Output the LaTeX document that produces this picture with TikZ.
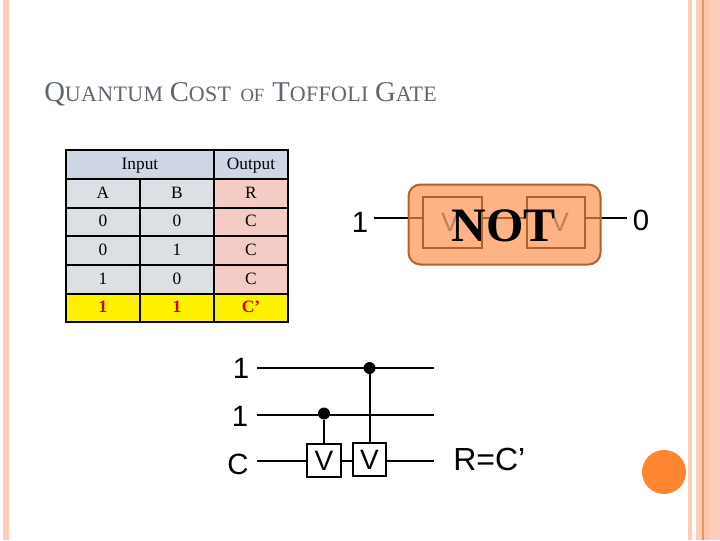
\documentclass[tikz,border=0pt]{standalone}
\usepackage{fontspec}
\setmainfont{Liberation Serif}
\newfontfamily\wirefont{Liberation Sans}
\definecolor{stripe}{HTML}{FDCDBA}
\definecolor{stripedark}{HTML}{FCC5AF}
\definecolor{stripeline}{HTML}{E8965F}
\definecolor{titlegrey}{HTML}{5E6670}
\definecolor{headblue}{HTML}{CFD7E6}
\definecolor{cellgrey}{HTML}{DCDFE4}
\definecolor{cellpink}{HTML}{F4CCC5}
\definecolor{boxorange}{HTML}{FDB383}
\definecolor{boxbrown}{HTML}{AE6230}
\definecolor{dotorange}{HTML}{FF8533}
\newcommand{\capbig}[1]{{\fontsize{21.5}{24}\selectfont #1}}
\newcommand{\capsmall}[1]{{\fontsize{16.5}{24}\selectfont\addfontfeature{LetterSpace=1.5}#1}}
\begin{document}
\begin{tikzpicture}[x=0.75pt, y=-0.75pt]
\tikzset{cellbase/.style={draw, line width=1.5pt, inner sep=0pt, text height=8pt, text depth=1pt, minimum height=21.5pt, minimum width=55.5pt, font=\fontsize{13}{15}\selectfont},
  cellgrey/.style={cellbase, fill=cellgrey},
  cellpink/.style={cellbase, fill=cellpink},
  cellhead/.style={cellbase, fill=headblue},
  cellhot/.style={cellbase, fill=yellow, text=red!80!black, font=\fontsize{13}{15}\selectfont\bfseries},
  gatev/.style={draw, line width=1.5pt, fill=white, inner sep=0pt, minimum size=25pt, font=\wirefont\fontsize{21}{22}\selectfont},
  innerv/.style={draw=boxbrown, line width=1.3pt, inner sep=0pt, minimum width=44pt, minimum height=38pt},
  innerlabel/.style={inner sep=0pt, text=boxbrown!80!white, font=\wirefont\fontsize{20}{22}\selectfont},
  wirelabel/.style={inner sep=0pt, font=\wirefont\fontsize{22}{24}\selectfont},
  wire/.style={line width=1.5pt},
  ctrl/.style={circle, fill=black, inner sep=0pt, minimum size=9pt}}
\useasboundingbox (0,0) rectangle (720,540);
% stripes at the page edges
\fill[stripe] (3,0) rectangle (9,540);
\fill[stripe] (688,0) rectangle (692,540);
\fill[stripe] (696,0) rectangle (720,540);
\fill[stripedark] (703,0) rectangle (710,540);
\fill[stripeline] (702,0) rectangle (703.5,540);
\node[circle, fill=dotorange, inner sep=0pt, minimum size=33pt] (spot) at (664,472) {};
% title
\node[anchor=base west, inner sep=0pt, text=titlegrey] (title) at (44,101) {\capbig{Q}\capsmall{UANTUM}\hspace{5pt}\capbig{C}\capsmall{OST}\hspace{7pt}{\fontsize{14}{24}\selectfont OF}\hspace{6pt}\capbig{T}\capsmall{OFFOLI}\hspace{5pt}\capbig{G}\capsmall{ATE}};
% table
\node[cellhead, minimum width=111pt] (hin) at (140,164.5) {Input};
\node[cellhead] (hout) at (251,164.5) {Output};
\node[cellgrey] (a0) at (103,193.5) {A};
\node[cellgrey] (b0) at (177,193.5) {B};
\node[cellpink] (r0) at (251,193.5) {R};
\node[cellgrey] (a1) at (103,222) {0};
\node[cellgrey] (b1) at (177,222) {0};
\node[cellpink] (r1) at (251,222) {C};
\node[cellgrey] (a2) at (103,250.5) {0};
\node[cellgrey] (b2) at (177,250.5) {1};
\node[cellpink] (r2) at (251,250.5) {C};
\node[cellgrey] (a3) at (103,279.5) {1};
\node[cellgrey] (b3) at (177,279.5) {0};
\node[cellpink] (r3) at (251,279.5) {C};
\node[cellhot] (a4) at (103,308) {1};
\node[cellhot] (b4) at (177,308) {1};
\node[cellhot] (r4) at (251,308) {C’};
% NOT block
\node[wirelabel] (notin) at (360,222) {1};
\node[wirelabel] (notout) at (641,220) {0};
\coordinate (notinend) at (374,218);
\coordinate (notoutend) at (627,218);
\node[draw=boxbrown, fill=boxorange, line width=1.5pt, rounded corners=9pt, inner sep=0pt, minimum width=144pt, minimum height=60pt] (notbox) at (504.5,224.5) {};
\node[innerv] (notva) at (452.5,222.5) {};
\node[innerv] (notvb) at (556,222.5) {};
\node[innerlabel] (vlefttext) at (450,222) {V};
\node[innerlabel] (vrighttext) at (560,222) {V};
\draw[wire] (notinend) -- (notbox.west |- notinend);
\draw[wire] (notbox.east |- notoutend) -- (notoutend);
\draw[wire, boxbrown] (notbox.west |- notinend) -- (notva.west |- notinend);
\draw[wire, boxbrown] (notva.east |- notinend) -- (notvb.west |- notinend);
\draw[wire, boxbrown] (notvb.east |- notoutend) -- (notbox.east |- notoutend);
\node[inner sep=0pt, font=\fontsize{36}{38}\selectfont\bfseries] (nottext) at (503.5,226) {NOT};
% circuit
\node[wirelabel] (la) at (241,368) {1};
\node[wirelabel] (lb) at (240,416) {1};
\node[wirelabel] (lc) at (238,464) {C};
\node[wirelabel, anchor=west, font=\wirefont\fontsize{24}{26}\selectfont] (lr) at (453,459) {R=C’};
\coordinate (astart) at (257,368);
\coordinate (aend) at (434,368);
\coordinate (bstart) at (257,415);
\coordinate (bend) at (434,415);
\coordinate (cstart) at (257,461);
\coordinate (cend) at (434,461);
\draw[wire] (astart) -- (aend);
\draw[wire] (bstart) -- (bend);
\draw[wire] (cstart) -- (cend);
\node[ctrl] (dotb) at (324,413.5) {};
\node[ctrl] (dota) at (369.5,368) {};
\node[gatev] (gatea) at (324,460.5) {V};
\node[gatev] (gateb) at (369.5,459.5) {V};
\draw[wire] (dotb) -- (gatea);
\draw[wire] (dota) -- (gateb);
\end{tikzpicture}
\end{document}
